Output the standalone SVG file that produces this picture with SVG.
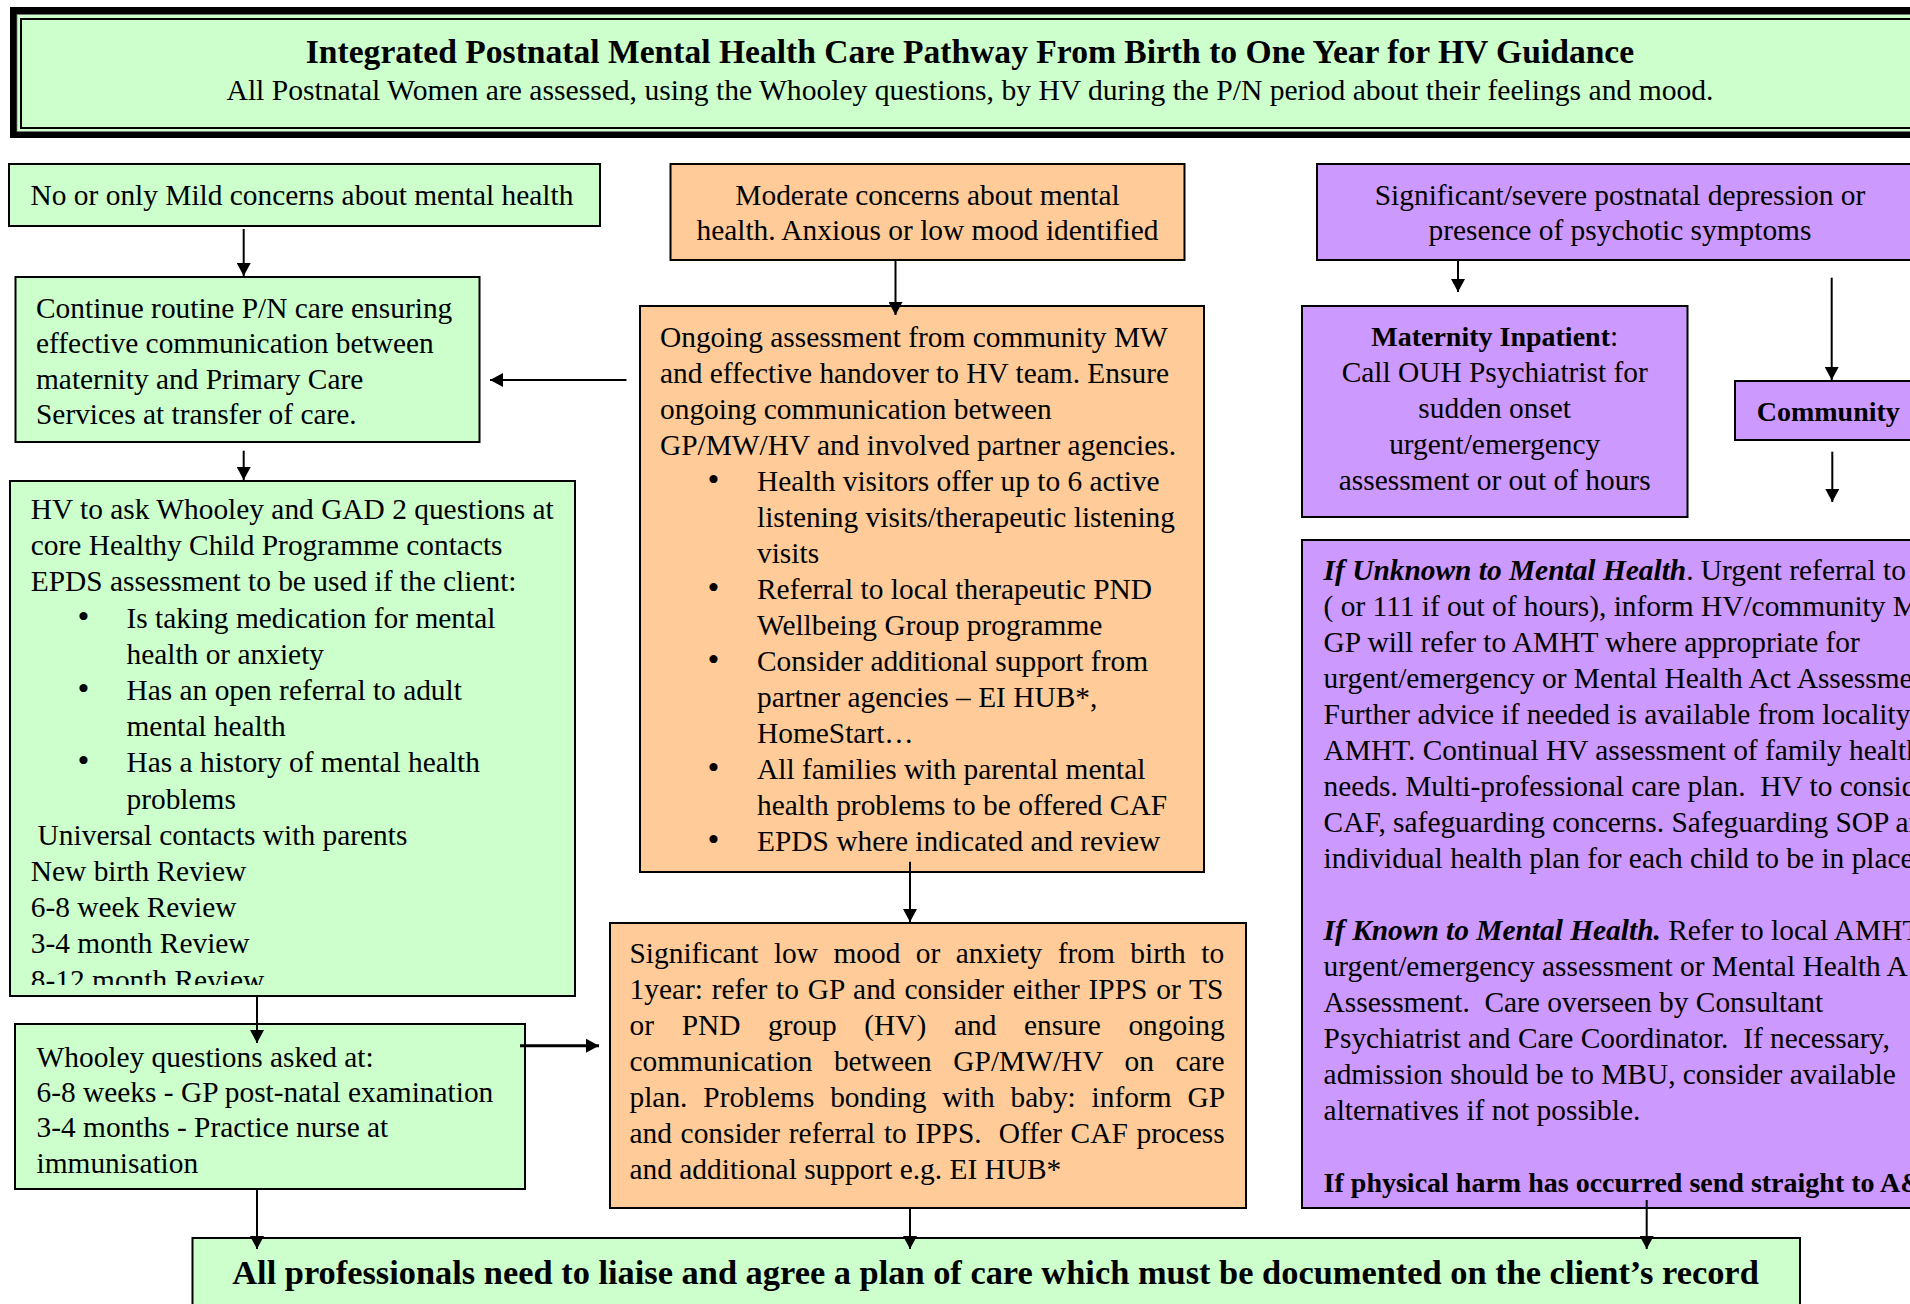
<svg xmlns="http://www.w3.org/2000/svg" width="1910" height="1304" viewBox="0 0 1910 1304">
<style>
  text { font-family: "Liberation Serif", "Times New Roman", serif; font-size: 29.4px; fill: #000; }
  .b { font-weight: bold; }
  .bi { font-weight: bold; font-style: italic; }
  .c { text-anchor: middle; }
  .bul { font-size: 34px; }
  .g { fill: #CCFFCC; stroke: #000; stroke-width: 2; }
  .o { fill: #FFCC99; stroke: #000; stroke-width: 2; }
  .p { fill: #CC99FF; stroke: #000; stroke-width: 2; }
  .ln { stroke: #000; stroke-width: 2; fill: none; marker-end: url(#ah); }
  .bold28 { font-weight: bold; font-size: 28px; }
</style>
<defs>
  <marker id="ah" markerUnits="userSpaceOnUse" markerWidth="14" markerHeight="14" viewBox="0 0 13 14" refX="13" refY="7" orient="auto">
    <path d="M0,0 L13,7 L0,14 z" fill="#000"/>
  </marker>
  <clipPath id="clipC"><rect x="10" y="481" width="565" height="504"/></clipPath>
</defs>
<rect width="1910" height="1304" fill="#fff"/>

<g id="header">
  <rect x="10" y="7" width="1920" height="131" fill="#000"/>
  <rect x="17" y="14.5" width="1920" height="117" fill="#CCFFCC" stroke="#777" stroke-width="0.8"/>
  <rect x="21" y="19" width="1920" height="109" fill="#CCFFCC" stroke="#000" stroke-width="2"/>
  <text class="b c" x="970" y="63" style="font-size:33.6px">Integrated Postnatal Mental Health Care Pathway From Birth to One Year for HV Guidance</text>
  <text class="c" x="970" y="100" style="font-size:29.6px">All Postnatal Women are assessed, using the Whooley questions, by HV during the P/N period about their feelings and mood.</text>
</g>

<g id="node-mild">
  <rect class="g" x="9" y="164" width="591" height="62"/>
  <text x="30.6" y="205">No or only Mild concerns about mental health</text>
</g>

<g id="node-routine">
  <rect class="g" x="15.5" y="277" width="464" height="165"/>
  <text x="36" y="317.5">Continue routine P/N care ensuring</text>
  <text x="36" y="353">effective communication between</text>
  <text x="36" y="388.5">maternity and Primary Care</text>
  <text x="36" y="424">Services at transfer of care.</text>
</g>

<g id="node-hv">
  <rect class="g" x="10" y="481" width="565" height="515"/>
  <g clip-path="url(#clipC)">
    <text x="30.8" y="519">HV to ask Whooley and GAD 2 questions at</text>
    <text x="30.8" y="555.2">core Healthy Child Programme contacts</text>
    <text x="30.8" y="591.4">EPDS assessment to be used if the client:</text>
    <text class="bul" x="77.5" y="627.6">•</text>
    <text x="126.5" y="627.6">Is taking medication for mental</text>
    <text x="126.5" y="663.8">health or anxiety</text>
    <text class="bul" x="77.5" y="700">•</text>
    <text x="126.5" y="700">Has an open referral to adult</text>
    <text x="126.5" y="736.2">mental health</text>
    <text class="bul" x="77.5" y="772.4">•</text>
    <text x="126.5" y="772.4">Has a history of mental health</text>
    <text x="126.5" y="808.6">problems</text>
    <text x="37.6" y="844.8">Universal contacts with parents</text>
    <text x="30.8" y="881">New birth Review</text>
    <text x="30.8" y="917.2">6-8 week Review</text>
    <text x="30.8" y="953.4">3-4 month Review</text>
    <text x="30.8" y="989.6">8-12 month Review</text>
  </g>
</g>

<g id="node-whooley">
  <rect class="g" x="15" y="1024" width="510" height="165"/>
  <text x="36.5" y="1066.5">Whooley questions asked at:</text>
  <text x="36.5" y="1101.5">6-8 weeks - GP post-natal examination</text>
  <text x="36.5" y="1137">3-4 months - Practice nurse at</text>
  <text x="36.5" y="1172.5">immunisation</text>
</g>

<g id="node-moderate">
  <rect class="o" x="670.5" y="164" width="514" height="96"/>
  <text class="c" x="927.5" y="205">Moderate concerns about mental</text>
  <text class="c" x="927.5" y="240">health. Anxious or low mood identified</text>
</g>

<g id="node-ongoing">
  <rect class="o" x="640" y="306" width="564" height="566"/>
  <text x="660" y="346.5">Ongoing assessment from community MW</text>
  <text x="660" y="382.5">and effective handover to HV team. Ensure</text>
  <text x="660" y="418.5">ongoing communication between</text>
  <text x="660" y="454.5">GP/MW/HV and involved partner agencies.</text>
  <text class="bul" x="707.5" y="490.5">•</text>
  <text x="757" y="490.5">Health visitors offer up to 6 active</text>
  <text x="757" y="526.5">listening visits/therapeutic listening</text>
  <text x="757" y="562.5">visits</text>
  <text class="bul" x="707.5" y="598.5">•</text>
  <text x="757" y="598.5">Referral to local therapeutic PND</text>
  <text x="757" y="634.5">Wellbeing Group programme</text>
  <text class="bul" x="707.5" y="670.5">•</text>
  <text x="757" y="670.5">Consider additional support from</text>
  <text x="757" y="706.5">partner agencies – EI HUB*,</text>
  <text x="757" y="742.5">HomeStart…</text>
  <text class="bul" x="707.5" y="778.5">•</text>
  <text x="757" y="778.5">All families with parental mental</text>
  <text x="757" y="814.5">health problems to be offered CAF</text>
  <text class="bul" x="707.5" y="850.5">•</text>
  <text x="757" y="850.5">EPDS where indicated and review</text>
</g>

<g id="node-lowmood">
  <rect class="o" x="610" y="923" width="636" height="285"/>
  <text x="629.5" y="963" style="word-spacing:8.1px">Significant low mood or anxiety from birth to</text>
  <text x="629.5" y="999" style="word-spacing:1.5px">1year: refer to GP and consider either IPPS or TS</text>
  <text x="629.5" y="1035" style="word-spacing:20.3px">or PND group (HV) and ensure ongoing</text>
  <text x="629.5" y="1071" style="word-spacing:14.2px">communication between GP/MW/HV on care</text>
  <text x="629.5" y="1107" style="word-spacing:8.5px">plan. Problems bonding with baby: inform GP</text>
  <text x="629.5" y="1143" style="word-spacing:1.3px">and consider referral to IPPS.&#160; Offer CAF process</text>
  <text x="629.5" y="1179">and additional support e.g. EI HUB*</text>
</g>

<g id="node-severe">
  <rect class="p" x="1317" y="164" width="620" height="96"/>
  <text class="c" x="1620" y="205">Significant/severe postnatal depression or</text>
  <text class="c" x="1620" y="240">presence of psychotic symptoms</text>
</g>

<g id="node-inpatient">
  <rect class="p" x="1302" y="306" width="385.5" height="211"/>
  <text class="c" x="1494.7" y="345.5"><tspan class="bold28">Maternity Inpatient</tspan>:</text>
  <text class="c" x="1494.7" y="381.5">Call OUH Psychiatrist for</text>
  <text class="c" x="1494.7" y="417.5">sudden onset</text>
  <text class="c" x="1494.7" y="453.5">urgent/emergency</text>
  <text class="c" x="1494.7" y="489.5">assessment or out of hours</text>
</g>

<g id="node-community">
  <rect class="p" x="1735" y="381" width="200" height="59"/>
  <text class="bold28" x="1756.7" y="421">Community</text>
</g>

<g id="node-community-detail">
  <rect class="p" x="1302" y="540" width="640" height="668"/>
  <text x="1323.6" y="580"><tspan class="bi">If Unknown to Mental Health</tspan>. Urgent referral to G</text>
  <text x="1323.6" y="616">( or 111 if out of hours), inform HV/community M</text>
  <text x="1323.6" y="652">GP will refer to AMHT where appropriate for</text>
  <text x="1323.6" y="688">urgent/emergency or Mental Health Act Assessme</text>
  <text x="1323.6" y="724">Further advice if needed is available from locality</text>
  <text x="1323.6" y="760">AMHT. Continual HV assessment of family health</text>
  <text x="1323.6" y="796">needs. Multi-professional care plan.&#160; HV to consid</text>
  <text x="1323.6" y="832">CAF, safeguarding concerns. Safeguarding SOP ar</text>
  <text x="1323.6" y="868">individual health plan for each child to be in place</text>
  <text x="1323.6" y="940"><tspan class="bi">If Known to Mental Health.</tspan> Refer to local AMHT</text>
  <text x="1323.6" y="976">urgent/emergency assessment or Mental Health A</text>
  <text x="1323.6" y="1012">Assessment.&#160; Care overseen by Consultant</text>
  <text x="1323.6" y="1048">Psychiatrist and Care Coordinator.&#160; If necessary,</text>
  <text x="1323.6" y="1084">admission should be to MBU, consider available</text>
  <text x="1323.6" y="1120">alternatives if not possible.</text>
  <text class="bold28" x="1323.6" y="1192">If physical harm has occurred send straight to A&amp;</text>
</g>

<g id="node-plan">
  <rect class="g" x="192.5" y="1238" width="1607.5" height="90"/>
  <text class="b c" x="995.5" y="1284" style="font-size:34.4px">All professionals need to liaise and agree a plan of care which must be documented on the client’s record</text>
</g>

<g id="connectors">
  <path class="ln" d="M243.7,229 V276"/>
  <path class="ln" d="M243.7,450.7 V480"/>
  <path class="ln" d="M257,996 V1043"/>
  <path class="ln" d="M257,1189 V1249"/>
  <path class="ln" d="M520,1045.7 H599" style="stroke-width:3"/>
  <path class="ln" d="M895.5,260 V315"/>
  <path class="ln" d="M626.5,380 H490"/>
  <path class="ln" d="M910,861.7 V922"/>
  <path class="ln" d="M910,1208 V1249"/>
  <path class="ln" d="M1458,260 V292"/>
  <path class="ln" d="M1831.7,277.7 V380"/>
  <path class="ln" d="M1832.3,451.7 V502"/>
  <path class="ln" d="M1646.7,1200 V1249"/>
</g>
</svg>
